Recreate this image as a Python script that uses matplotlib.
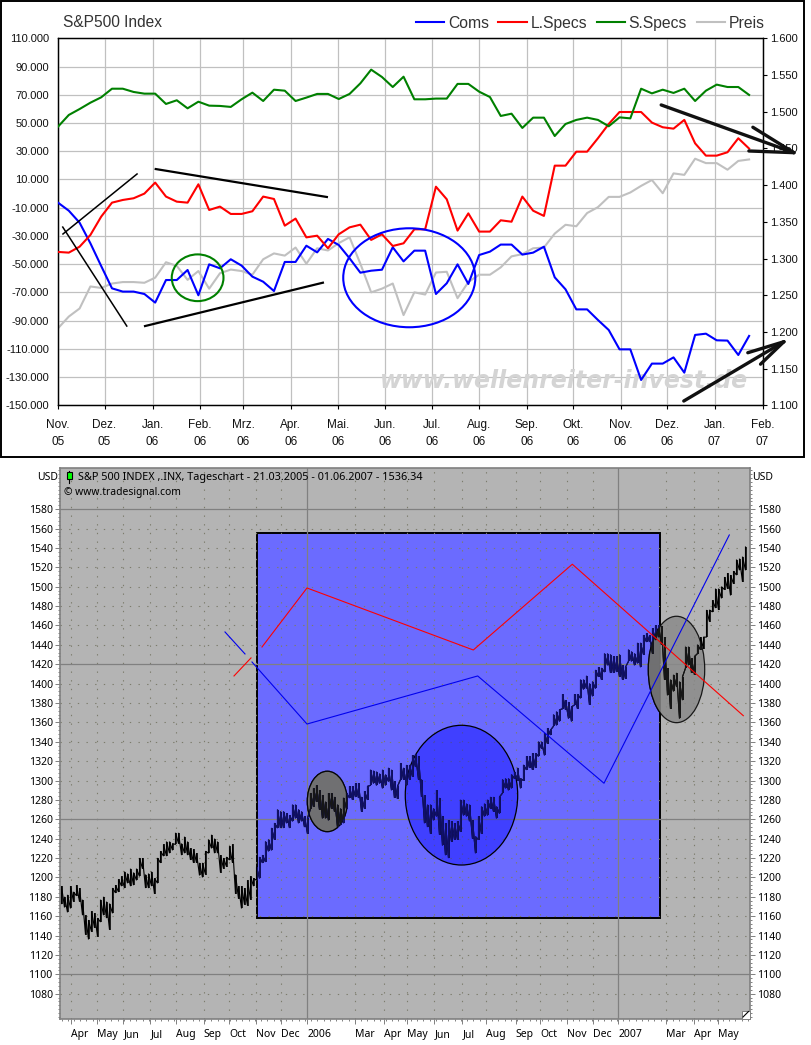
import matplotlib
matplotlib.use("Agg")
import matplotlib.pyplot as plt
from matplotlib.collections import LineCollection
from matplotlib.patches import Ellipse, Rectangle
from matplotlib.ticker import MultipleLocator

W, H = 811, 1045

# --- top chart: weekly positions, thousands of contracts ---
coms = [-6.4, -12.1, -20.6, -35.2, -51.3, -67.1, -69.4, -69.4, -71.1, -77.2, -61.2, -61.2, -54.1,
        -72.0, -50.1, -52.9, -46.5, -51.0, -58.8, -62.4, -69.0, -48.4, -48.4, -36.9, -41.6, -32.1,
        -36.4, -45.8, -56.0, -54.6, -53.9, -38.0, -48.0, -40.4, -40.4, -71.1, -63.5, -50.1, -64.0,
        -43.5, -41.1, -36.1, -36.1, -43.2, -41.8, -37.6, -59.3, -67.8, -82.0, -82.0, -89.5, -96.6,
        -110.3, -110.3, -132.0, -120.4, -120.4, -116.0, -126.8, -100.1, -99.2, -103.9, -104.1,
        -114.3, -100.8]
l_specs = [-41.3, -41.8, -37.6, -29.3, -16.3, -6.4, -4.5, -3.3, 0.0, 7.8, -2.1, -5.7, -6.4, 6.6,
           -11.6, -9.2, -14.4, -14.4, -12.5, -2.1, -3.8, -22.7, -17.7, -31.0, -29.8, -38.7, -28.8,
           -23.9, -22.0, -32.8, -28.8, -37.1, -35.2, -25.3, -25.3, 4.9, -4.0, -26.2, -14.0, -26.9,
           -26.9, -18.9, -19.9, -2.1, -12.1, -15.8, 19.8, 19.8, 29.7, 29.7, 39.2, 49.3, 57.8, 57.8,
           57.8, 50.3, 47.0, 46.0, 52.2, 35.6, 26.9, 26.9, 29.3, 39.2, 31.9]
s_specs = [47.4, 55.7, 59.9, 64.4, 68.2, 74.3, 74.3, 72.0, 70.8, 70.8, 63.5, 66.1, 60.4, 65.1, 62.3,
           62.1, 61.4, 66.8, 71.5, 65.6, 73.6, 72.9, 65.6, 68.0, 70.6, 70.6, 67.0, 70.6, 78.1, 87.8,
           82.6, 75.5, 82.8, 66.8, 66.8, 67.3, 67.3, 77.7, 77.7, 72.2, 68.4, 55.0, 56.6, 46.5, 53.8,
           53.8, 40.8, 49.3, 52.2, 53.8, 52.2, 47.7, 54.0, 53.3, 74.3, 71.0, 73.6, 71.3, 74.3, 65.6,
           72.9, 77.2, 75.5, 75.5, 69.9]
preis = [1205, 1221, 1232, 1262, 1260, 1266, 1268, 1268, 1267, 1274, 1295, 1290, 1271, 1283, 1259,
         1280, 1285, 1283, 1278, 1299, 1307, 1304, 1315, 1293, 1314, 1311, 1321, 1329, 1293, 1254,
         1259, 1266, 1223, 1254, 1251, 1281, 1282, 1246, 1268, 1278, 1278, 1288, 1303, 1306, 1314,
         1315, 1334, 1346, 1344, 1362, 1370, 1384, 1384, 1390, 1399, 1407, 1389, 1416, 1414, 1436,
         1430, 1430, 1421, 1433, 1435]

month_weeks = [0, 4.31, 8.76, 13.16, 17.14, 21.55, 25.9, 30.3, 34.6, 39.0, 43.4, 47.7, 52.1, 56.4, 60.8, 65.25]
month_labels = ["Nov.\n05", "Dez.\n05", "Jan.\n06", "Feb.\n06", "Mrz.\n06", "Apr.\n06", "Mai.\n06", "Jun.\n06",
                "Jul.\n06", "Aug.\n06", "Sep.\n06", "Okt.\n06", "Nov.\n06", "Dez.\n06", "Jan.\n07", "Feb.\n07"]
left_ticks = list(range(-150, 111, 20))
right_ticks = [1100, 1150, 1200, 1250, 1300, 1350, 1400, 1450, 1500, 1550, 1600]

# hand drawn marks on the top chart (week, thousands)
thin_lines = [[(0.46, -28.6), (7.32, 13.9)], [(0.44, -23.7), (6.37, -93.8)]]
thick_lines = [[(9.05, 17.4), (24.9, -2.4)], [(8.06, -93.8), (24.53, -63.1)]]
arrow_down = [(68.15, 29.0), [(55.86, 62.8), (64.35, 47.0), (63.98, 30.2)]]
arrow_up = [(67.22, -104.9), [(57.95, -146.9), (63.88, -112.7), (65.06, -120.8)]]

# --- bottom chart: S&P 500 bars, high / low read about every 3 pixels ---
bar_high = [1191, 1180, 1182, 1191, 1185, 1192, 1189, 1177, 1161, 1156, 1165, 1163, 1158, 1177, 1180, 1175, 1173,
            1189, 1192, 1198, 1201, 1206, 1204, 1209, 1205, 1209, 1220, 1220, 1203, 1204, 1206, 1199, 1220, 1227,
            1234, 1237, 1237, 1235, 1246, 1246, 1235, 1242, 1237, 1230, 1229, 1225, 1215, 1215, 1227, 1239, 1244,
            1240, 1237, 1223, 1220, 1221, 1232, 1234, 1203, 1191, 1191, 1189, 1197, 1201, 1199, 1211, 1221,
            1223, 1237, 1239, 1251, 1256, 1270, 1268, 1268, 1266, 1264, 1275, 1275, 1270, 1268, 1263, 1261, 1287,
            1292, 1295, 1290, 1285, 1278, 1287, 1287, 1283, 1275, 1271, 1282, 1287, 1294, 1294, 1297, 1297, 1283,
            1289, 1294, 1311, 1310, 1309, 1307, 1311, 1306, 1313, 1311, 1299, 1294, 1318, 1313, 1316, 1316, 1326,
            1327, 1325, 1301, 1285, 1275, 1275, 1271, 1290, 1282, 1263, 1256, 1259, 1258, 1256,
            1258, 1280, 1280, 1276, 1275, 1259, 1242, 1263, 1273, 1276, 1280, 1283, 1283, 1273, 1283, 1301, 1302,
            1302, 1306, 1309, 1313, 1302, 1316, 1325, 1325, 1328, 1328, 1340, 1340, 1349, 1354, 1352, 1368, 1371,
            1373,
            1389, 1383, 1381, 1376, 1389, 1389, 1404, 1404, 1408, 1400, 1402, 1414, 1417, 1416, 1431, 1431, 1430,
            1428, 1428, 1430, 1419, 1417, 1435, 1433, 1431, 1442, 1442, 1450, 1452, 1450, 1457, 1460, 1460, 1459,
            1448, 1416, 1404, 1409, 1411, 1402, 1407, 1438, 1438, 1426, 1428, 1440, 1448, 1448, 1476, 1476, 1486,
            1498, 1498, 1500, 1510, 1514, 1512, 1516, 1528, 1529, 1531, 1541]
bar_low = [1173, 1169, 1164, 1168, 1175, 1181, 1175, 1161, 1141, 1136, 1144, 1148, 1139, 1154, 1161, 1158, 1146,
           1163, 1184, 1185, 1191, 1189, 1194, 1191, 1192, 1197, 1201, 1209, 1189, 1189, 1191, 1183, 1194, 1215,
           1222, 1222, 1225, 1228, 1234, 1235, 1223, 1225, 1223, 1218, 1215, 1215, 1202, 1200, 1203, 1225, 1230,
           1225, 1225, 1205, 1209, 1211, 1218, 1215, 1183, 1178, 1168, 1172, 1171, 1177, 1191, 1197, 1199,
           1215, 1216, 1227, 1228, 1239, 1251, 1251, 1251, 1256, 1251, 1258, 1261, 1256, 1258, 1252, 1245, 1271,
           1273, 1278, 1270, 1261, 1261, 1259, 1271, 1268, 1252, 1254, 1256, 1271, 1282, 1280, 1283, 1282, 1268,
           1271, 1280, 1295, 1297, 1295, 1297, 1292, 1295, 1299, 1290, 1282, 1281, 1301, 1301, 1295, 1301, 1304,
           1314, 1301, 1283, 1256, 1252, 1245, 1259, 1263, 1244, 1233, 1223, 1220, 1237, 1239,
           1239, 1247, 1264, 1263, 1258, 1240, 1225, 1239, 1245, 1263, 1264, 1271, 1268, 1261, 1266, 1287, 1292,
           1290, 1292, 1302, 1300, 1292, 1300, 1311, 1313, 1311, 1313, 1325, 1333, 1326, 1338, 1347, 1356, 1357,
           1361,
           1374, 1373, 1364, 1361, 1378, 1374, 1385, 1394, 1395, 1378, 1387, 1395, 1407, 1404, 1412, 1419, 1411,
           1411, 1412, 1407, 1404, 1405, 1423, 1423, 1419, 1421, 1417, 1430, 1443, 1443, 1431, 1445, 1448, 1440,
           1404, 1388, 1374, 1392, 1397, 1364, 1383, 1416, 1419, 1411, 1409, 1431, 1435, 1436, 1448, 1464, 1474,
           1478, 1476, 1488, 1497, 1498, 1491, 1503, 1512, 1517, 1505, 1517]

date_ticks = [3.27, 11.93, 20.6, 29.6, 38.07, 47.4, 55.93, 64.73, 73.27, 81.93, 97.93, 107.6, 115.27, 124.27,
              133.6, 141.6, 151.4, 159.6, 168.6, 177.27, 185.6, 201.6, 210.73, 218.93]
date_labels = ["Apr", "May", "Jun", "Jul", "Aug", "Sep", "Oct", "Nov", "Dec", "2006", "Mar", "Apr", "May", "Jun",
               "Jul", "Aug", "Sep", "Oct", "Nov", "Dec", "2007", "Mar", "Apr", "May"]
year_ticks = [81.93, 185.6]
strong_levels = [1100, 1260, 1420, 1580]
price_ticks = list(range(1080, 1581, 20))

red_trend = [[(57.5, 1407.9), (63.17, 1426.5)],
             [(66.83, 1437.8), (81.83, 1498.7), (137.27, 1434.7), (170.27, 1523.2), (227.27, 1366.9)]]
blue_trend = [[(54.5, 1453.3), (61.17, 1430.6)],
              [(63.5, 1422.3), (81.83, 1358.3), (138.73, 1407.9), (180.83, 1297.2), (222.6, 1553.4)]]


def fig_box(left, top, right, bottom):
    return [left / W, 1 - bottom / H, (right - left) / W, (bottom - top) / H]


def fx(x):
    return x / W


def fy(y):
    return 1 - y / H


fig = plt.figure(figsize=(W / 100, H / 100), dpi=100, facecolor="white")
plt.rcParams["font.family"] = ["Liberation Sans", "DejaVu Sans"]

# frame around the top panel
fig.add_artist(Rectangle((fx(1), fy(457)), fx(803), 456 / H, transform=fig.transFigure, fill=False,
                         ec="black", lw=1.4))

# ---------- top chart ----------
ax = fig.add_axes(fig_box(58, 38.3, 762.6, 405.4))
ax2 = ax.twinx()
ax.set_zorder(ax2.get_zorder() + 1)
ax.patch.set_visible(False)

weeks = range(len(coms))
ax.set_xlim(0, 65.25)
ax.set_ylim(-150, 110)
ax2.set_ylim(1100, 1600)

ax.set_xticks(month_weeks, month_labels, fontsize=8.5, color="#111111", linespacing=1.6)
ax.set_yticks(left_ticks, [f"{v * 1000:,}".replace(",", ".") for v in left_ticks], fontsize=8, color="#111111")
ax2.set_yticks(right_ticks, [f"{v:,}".replace(",", ".") for v in right_ticks], fontsize=8, color="#111111")
ax.tick_params(axis="y", length=0, pad=6.5)
ax.tick_params(axis="x", length=3, width=0.8, pad=6.5)
ax2.tick_params(axis="y", length=3, width=0.8, pad=2.7)
ax.grid(True, color="#c0c0c0", lw=0.9)
ax.set_axisbelow(True)
for s in ax.spines.values():
    s.set_linewidth(0.9)
for s in ax2.spines.values():
    s.set_linewidth(0.9)

ax.text(29.84, -137.5, "www.wellenreiter-invest.de", fontsize=17, color="#d4d4d4", family="DejaVu Sans",
        style="oblique", weight="bold", zorder=1.5)

line_p, = ax2.plot(weeks, preis, color="#c0c0c0", lw=1.5, label="Preis")
line_c, = ax.plot(weeks, coms, color="#0000ff", lw=1.5, label="Coms", zorder=3)
line_l, = ax.plot(weeks, l_specs, color="#ff0000", lw=1.5, label="L.Specs", zorder=3)
line_s, = ax.plot(weeks, s_specs, color="#008000", lw=1.5, label="S.Specs", zorder=3)

ax.add_patch(Ellipse((12.93, -59.6), 4.79, 33.1, fill=False, ec="#008000", lw=1.5, zorder=4))
ax.add_patch(Ellipse((32.53, -59.6), 12.23, 70.1, fill=False, ec="#0000ff", lw=1.5, zorder=4))
for pts in thin_lines:
    ax.plot(*zip(*pts), color="black", lw=1.1, zorder=4)
for pts in thick_lines:
    ax.plot(*zip(*pts), color="black", lw=1.6, zorder=4)
for tip, tails in (arrow_down, arrow_up):
    for tail in tails:
        ax.plot([tail[0], tip[0]], [tail[1], tip[1]], color="#111111", lw=2.4, zorder=5,
                clip_on=False, solid_capstyle="round")

ax.legend([line_c, line_l, line_s, line_p], ["Coms", "L.Specs", "S.Specs", "Preis"], ncol=4, frameon=False,
          loc="lower right", bbox_to_anchor=(1.003, 1.021), borderaxespad=0, borderpad=0, fontsize=11.3,
          handlelength=1.8, handletextpad=0.25, columnspacing=0.6, labelcolor="#333333")
fig.text(fx(63), fy(27), "S&P500 Index", fontsize=11.2, color="#333333")

# ---------- bottom chart ----------
grey_bg = "#b4b4b4"
axis_grey = "#808080"
bx = fig.add_axes(fig_box(60.3, 468.3, 749.7, 1018.7), facecolor=grey_bg)
bars_x = list(range(len(bar_high)))
bx.set_xlim(-0.4, 229.4)
bx.set_ylim(1054.2, 1622.2)

low_font = ["Noto Sans", "DejaVu Sans"]
bx.set_yticks(price_ticks)
bx.set_yticklabels([str(v) for v in price_ticks], fontsize=7.5, family=low_font)
bx.yaxis.set_minor_locator(MultipleLocator(4))
bx.tick_params(axis="y", which="major", left=True, right=True, labelleft=True, labelright=True, length=3.5,
               width=0.7, color=axis_grey, pad=2)
bx.tick_params(axis="y", which="minor", left=True, right=True, length=1.5, width=0.7, color=axis_grey)
bx.set_xticks(date_ticks)
bx.set_xticklabels(date_labels, fontsize=7.5, family=low_font, ha="left")
bx.xaxis.set_minor_locator(MultipleLocator(2.08))
bx.tick_params(axis="x", which="major", length=3.5, width=0.7, color=axis_grey, pad=4)
bx.tick_params(axis="x", which="minor", length=1.5, width=0.7, color=axis_grey)
for s in bx.spines.values():
    s.set_color(axis_grey)
    s.set_linewidth(1.2)

# dotted grid, year and level lines
rect = Rectangle((65.27, 1157.8), 134.33, 397.3, fc="#6b6bff", ec="black", lw=1.4, zorder=1)
bx.add_patch(rect)
dots = dict(color="#7c7c6c", lw=0.8, ls=(0, (1.2, 6.6)), zorder=2)
for v in price_ticks:
    if v not in strong_levels:
        bx.axhline(v, **dots)
for v in date_ticks:
    if v not in year_ticks:
        bx.axvline(v, **dots)
for v in strong_levels:
    bx.axhline(v, color=axis_grey, lw=0.9, zorder=2.1)
for v in year_ticks:
    bx.axvline(v, color=axis_grey, lw=0.9, zorder=2.1)

big = Ellipse((133.33, 1284.9), 37.47, 144.2, fc=(0, 0, 1, 0.4), ec="black", lw=0.9, zorder=3)
bx.add_patch(big)
grey_spots = []
for cx, cy, w, h in [(88.6, 1278.4, 13.33, 62.3), (205, 1414.6, 18.8, 109.8)]:
    e = Ellipse((cx, cy), w, h, fc="#8a8a8a", ec="black", lw=0.9, alpha=0.85, zorder=3)
    bx.add_patch(e)
    inner = Ellipse((cx, cy), w, h, fc="#6e6e6e", ec="black", lw=0.9, alpha=0.9, zorder=3.1)
    bx.add_patch(inner)
    inner.set_clip_path(rect)
    grey_spots.append(e)


def draw_bars(color, zorder, clip=None):
    # one bar per reading, plus a zigzag from each high to the next low
    segments = [[(i, lo), (i, hi)] for i, lo, hi in zip(bars_x, bar_low, bar_high)]
    bars = LineCollection(segments, colors=color, linewidths=1.15, zorder=zorder)
    bx.add_collection(bars)
    zig_x, zig_y = [], []
    for i, lo, hi in zip(bars_x, bar_low, bar_high):
        zig_x += [i, i]
        zig_y += [lo, hi]
    zig, = bx.plot(zig_x, zig_y, color=color, lw=0.8, zorder=zorder, solid_joinstyle="bevel")
    if clip is not None:
        bars.set_clip_path(clip)
        zig.set_clip_path(clip)


draw_bars("black", 5)
draw_bars("#101068", 5.1, rect)
for e in grey_spots:
    draw_bars("#161616", 5.2, e)

for pts in red_trend:
    bx.plot(*zip(*pts), color="#ff0000", lw=0.8, zorder=6)
for pts in blue_trend:
    bx.plot(*zip(*pts), color="#0000ee", lw=0.8, zorder=6)

# header texts and small widgets
fig.text(fx(37), fy(480), "USD", fontsize=7.5, family=low_font)
fig.text(fx(752), fy(480), "USD", fontsize=7.5, family=low_font)
fig.text(fx(77.5), fy(480), "S&P 500 INDEX ,.INX, Tageschart - 21.03.2005 - 01.06.2007 - 1536.34", fontsize=7.8,
         family=low_font)
fig.text(fx(63.5), fy(495), "\u00a9 www.tradesignal.com", fontsize=7.4, family=low_font)
fig.add_artist(plt.Line2D([fx(69.3), fx(69.3)], [fy(470.5), fy(483)], color="black", lw=0.8, zorder=7))
fig.add_artist(Rectangle((fx(66.7), fy(479)), 5.3 / W, 6.7 / H, transform=fig.transFigure, fc="#00ff00", ec="black",
                         lw=0.8, zorder=8))
fig.add_artist(Rectangle((fx(741.5), fy(1018.5)), 8 / W, 8 / H, transform=fig.transFigure, fc="white", ec=axis_grey,
                         lw=0.7, zorder=8))
fig.add_artist(plt.Line2D([fx(743), fx(748.5)], [fy(1017), fy(1011.5)], color="black", lw=0.8, zorder=9))

fig.savefig("out.png", dpi=100)
